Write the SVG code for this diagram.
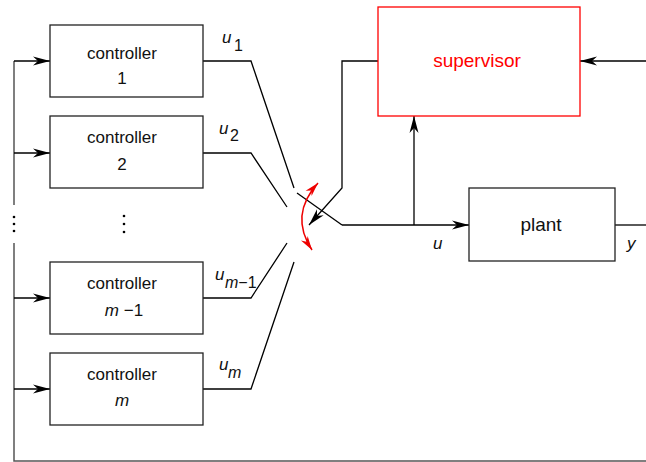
<svg xmlns="http://www.w3.org/2000/svg" width="646" height="462" viewBox="0 0 646 462">
<style>
.box{fill:#fff;stroke:#222;stroke-width:1.3}
.sup{fill:#fff;stroke:#f00;stroke-width:1.3}
.ln{fill:none;stroke:#000;stroke-width:1.3}
.bus{fill:none;stroke:#555;stroke-width:1.5}
.red{fill:none;stroke:#e00;stroke-width:1.5}
text{font-family:"Liberation Sans",Arial,sans-serif;fill:#111}
.t{font-size:17px;text-anchor:middle}
.big{font-size:19px;text-anchor:middle}
.it{font-style:italic;font-size:17px}
.sub{font-size:16px}
.subi{font-size:16px;font-style:italic}
</style>
<defs>
<marker id="ah" markerUnits="userSpaceOnUse" markerWidth="18" markerHeight="12" refX="17" refY="6" orient="auto"><path d="M0,1.5 L17,6 L0,10.5 L5,6 z" fill="#000"/></marker>
<marker id="rh" markerUnits="userSpaceOnUse" markerWidth="16" markerHeight="12" refX="14" refY="6" orient="auto-start-reverse"><path d="M0,2 L14,6 L0,10 L4,6 z" fill="#e00"/></marker>
</defs>

<g id="connectors">
<path class="bus" d="M14,61 V205"/>
<path class="bus" d="M14,243 V461 H646"/>
<path class="ln" d="M14,61 H50" marker-end="url(#ah)"/>
<path class="ln" d="M14,153 H50" marker-end="url(#ah)"/>
<path class="ln" d="M14,298 H50" marker-end="url(#ah)"/>
<path class="ln" d="M14,389 H50" marker-end="url(#ah)"/>
<path class="ln" d="M203,61 H251 L294,188"/>
<path class="ln" d="M203,153 H251 L287,207"/>
<path class="ln" d="M203,298 H251 L287,243"/>
<path class="ln" d="M203,389 H251 L294,262"/>
<path class="ln" d="M297,193 L342,225"/>
<path class="ln" d="M342,225 H469" marker-end="url(#ah)"/>
<path class="ln" d="M414,225 V116" marker-end="url(#ah)"/>
<path class="ln" d="M378,61 H342 V188 L309,225" marker-end="url(#ah)"/>
<path class="ln" d="M646,61 H580" marker-end="url(#ah)"/>
<path class="ln" d="M615,225 H646"/>
<path class="red" d="M318,183 Q289,215 312,250" marker-start="url(#rh)" marker-end="url(#rh)"/>
</g>

<g id="dots-left" fill="#000">
<circle cx="14" cy="217" r="1.3"/><circle cx="14" cy="224" r="1.3"/><circle cx="14" cy="231" r="1.3"/>
</g>
<g id="dots-mid" fill="#000">
<circle cx="124" cy="216" r="1.3"/><circle cx="124" cy="224" r="1.3"/><circle cx="124" cy="232" r="1.3"/>
</g>

<g id="controller1">
<rect class="box" x="50" y="25" width="153" height="72"/>
<text class="t" x="122" y="59">controller</text>
<text class="t" x="122" y="84">1</text>
</g>
<g id="controller2">
<rect class="box" x="50" y="116" width="153" height="72"/>
<text class="t" x="122" y="143">controller</text>
<text class="t" x="122" y="170">2</text>
</g>
<g id="controller-m-1">
<rect class="box" x="50" y="262" width="153" height="72"/>
<text class="t" x="122" y="289">controller</text>
<text class="t" x="124" y="316"><tspan font-style="italic">m</tspan> −1</text>
</g>
<g id="controller-m">
<rect class="box" x="50" y="353" width="153" height="72"/>
<text class="t" x="122" y="380">controller</text>
<text class="t" x="122" y="406" font-style="italic">m</text>
</g>

<g id="supervisor">
<rect class="sup" x="378" y="7" width="202" height="109"/>
<text class="big" x="477" y="67" style="fill:#f00">supervisor</text>
</g>
<g id="plant">
<rect class="box" x="469" y="188" width="146" height="73"/>
<text class="big" x="541" y="231">plant</text>
</g>

<g id="labels">
<text class="it" x="222" y="43">u</text><text class="sub" x="234" y="51">1</text>
<text class="it" x="219" y="134">u</text><text class="sub" x="230" y="141">2</text>
<text class="it" x="215" y="280">u</text><text class="sub" x="225" y="288"><tspan font-style="italic">m</tspan>−1</text>
<text class="it" x="219" y="370">u</text><text class="subi" x="228" y="378">m</text>
<text class="it" x="433" y="249">u</text>
<text class="it" x="627" y="249">y</text>
</g>
</svg>
